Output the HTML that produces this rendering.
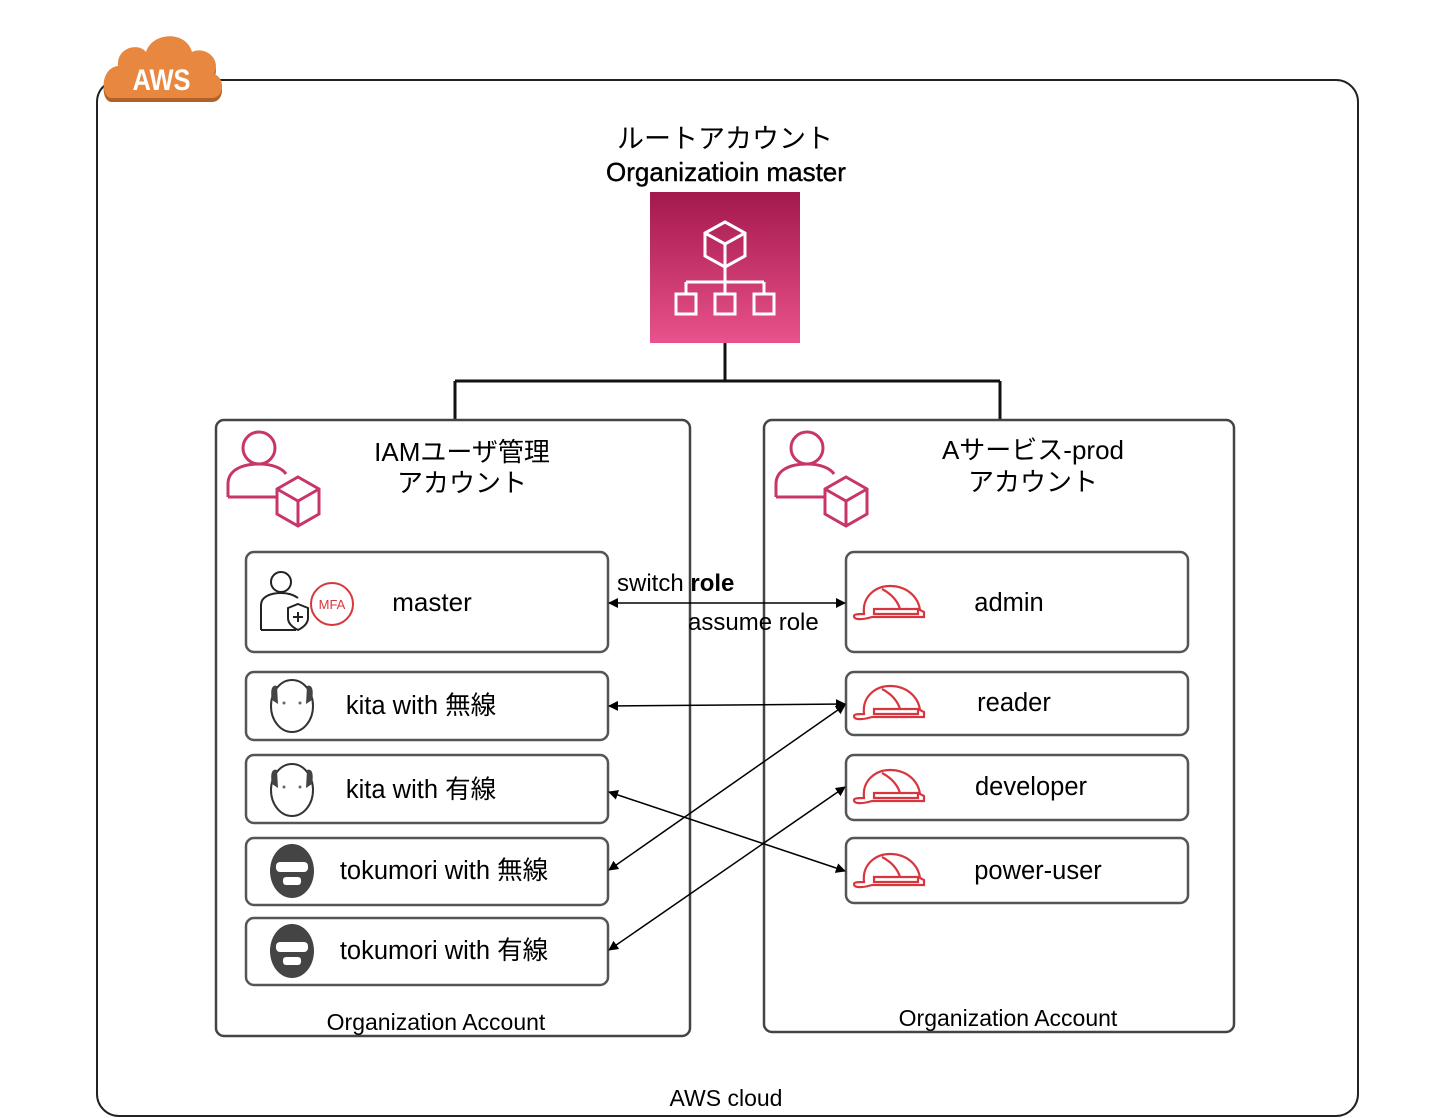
<!DOCTYPE html>
<html><head><meta charset="utf-8"><style>
html,body{margin:0;padding:0;background:#fff;}
svg{display:block;font-family:"Liberation Sans","Noto Sans CJK JP",sans-serif;}
</style></head><body>
<svg width="1442" height="1118" viewBox="0 0 1442 1118" xmlns="http://www.w3.org/2000/svg">
<defs>
<linearGradient id="pg" x1="0" y1="0" x2="0" y2="1"><stop offset="0" stop-color="#A3184D"/><stop offset="1" stop-color="#E9528C"/></linearGradient>
<marker id="ar" viewBox="0 0 10 10" refX="9" refY="5" markerWidth="10" markerHeight="10" orient="auto-start-reverse" markerUnits="userSpaceOnUse"><path d="M0,0 L10,5 L0,10 Z" fill="#000"/></marker>
<g id="helm" fill="none" stroke="#D8363E" stroke-width="2.2">
<path d="M864,614 C862,596 876,586 890,586 C906,586 918,596 920,610 L924,612 L924,617 L872,617 C862,620 854,620 854,616 C854,614 860,614 864,614 Z"/>
<path d="M874,609 L918,609 L918,614 L874,614 Z"/>
<path d="M882,589 C892,594 898,602 900,609"/>
</g>
</defs>
<rect x="97" y="80" width="1261" height="1036" rx="22" fill="none" stroke="#222" stroke-width="2"/>
<g>
<path d="M112,102 C100,102 100,72 118,70 C116,52 138,46 146,56 C152,36 186,34 192,56 C204,50 222,62 214,78 C226,82 224,102 212,102 Z" fill="#B0622C"/>
<path d="M112,98 C100,98 100,68 118,66 C116,48 138,42 146,52 C152,32 186,30 192,52 C204,46 222,58 214,74 C226,78 224,98 212,98 Z" fill="#E8873F"/>
<text x="162" y="90" font-size="30" fill="#fff" text-anchor="middle" font-weight="bold" transform="scale(0.85,1) translate(28,0)">AWS</text>
</g>
<text x="725" y="148" font-size="27" text-anchor="middle">ルートアカウント</text>
<text x="726" y="181" font-size="26" text-anchor="middle" stroke="#000" stroke-width="0.4">Organizatioin master</text>
<rect x="650" y="192" width="150" height="151" fill="url(#pg)"/>
<g fill="none" stroke="#fff" stroke-width="3">
<path d="M725,222 L745,233 L745,256 L725,267 L705,256 L705,233 Z M705,233 L725,244 L745,233 M725,244 L725,267"/>
<path d="M725,267 L725,282 M686,282 L764,282 M686,282 L686,294 M725,282 L725,294 M764,282 L764,294"/>
<rect x="676" y="294" width="20" height="20"/><rect x="715" y="294" width="20" height="20"/><rect x="754" y="294" width="20" height="20"/>
</g>
<path d="M725,343 V381 M455,381 H1000 M455,381 V420 M1000,381 V420" stroke="#111" stroke-width="3" fill="none"/>
<rect x="216" y="420" width="474" height="616" rx="8" fill="none" stroke="#444" stroke-width="2.5"/>
<rect x="764" y="420" width="470" height="612" rx="8" fill="none" stroke="#444" stroke-width="2.5"/>
<g fill="none" stroke="#C7356A" stroke-width="3">
<circle cx="259" cy="448" r="16"/><path d="M228,497 V484 C228,470 242,464 259,464 C272,464 282,468 286,474 M228,497 H276"/>
<path d="M298,477 L319,489 L319,514 L298,526 L277,514 L277,489 Z M277,489 L298,501 L319,489 M298,501 V526"/>
<circle cx="807" cy="448" r="16"/><path d="M776,497 V484 C776,470 790,464 807,464 C820,464 830,468 834,474 M776,497 H824"/>
<path d="M846,477 L867,489 L867,514 L846,526 L825,514 L825,489 Z M825,489 L846,501 L867,489 M846,501 V526"/>
</g>
<text x="462" y="461" font-size="26" text-anchor="middle">IAMユーザ管理</text>
<text x="462" y="492" font-size="26" text-anchor="middle">アカウント</text>
<text x="1033" y="459" font-size="26" text-anchor="middle">Aサービス-prod</text>
<text x="1033" y="491" font-size="26" text-anchor="middle">アカウント</text>
<g fill="#fff" stroke="#555" stroke-width="2.5">
<rect x="246" y="552" width="362" height="100" rx="8"/>
<rect x="246" y="672" width="362" height="68" rx="8"/>
<rect x="246" y="755" width="362" height="68" rx="8"/>
<rect x="246" y="838" width="362" height="67" rx="8"/>
<rect x="246" y="918" width="362" height="67" rx="8"/>
<rect x="846" y="552" width="342" height="100" rx="8"/>
<rect x="846" y="672" width="342" height="63" rx="8"/>
<rect x="846" y="755" width="342" height="65" rx="8"/>
<rect x="846" y="838" width="342" height="65" rx="8"/>
</g>
<g fill="none" stroke="#222" stroke-width="2">
<circle cx="281" cy="582" r="10"/><path d="M261,630 V605 C261,597 270,593 281,593 C288,593 294,595 298,598 M261,630 H296"/>
<path d="M298,604 L308,608 V618 C308,624 302,628 298,630 C294,628 288,624 288,618 V608 Z M298,612 V622 M293,617 H303"/>
</g>
<circle cx="332" cy="604" r="21" fill="none" stroke="#D8363E" stroke-width="2"/>
<text x="332" y="609" font-size="13" fill="#D8363E" text-anchor="middle">MFA</text>
<text x="432" y="611" font-size="26" text-anchor="middle">master</text>
<g stroke="#333" stroke-width="2" fill="#fff">
<ellipse cx="292" cy="706" rx="21" ry="26"/><ellipse cx="292" cy="790" rx="21" ry="26"/>
</g>
<g fill="#444"><path d="M272,700 C270,690 272,684 277,686 L278,704 Z M312,700 C314,690 312,684 307,686 L306,704 Z"/><path d="M272,784 C270,774 272,768 277,770 L278,788 Z M312,784 C314,774 312,768 307,770 L306,788 Z"/></g>
<g fill="#666"><circle cx="284" cy="703" r="1.5"/><circle cx="300" cy="703" r="1.5"/><circle cx="284" cy="787" r="1.5"/><circle cx="300" cy="787" r="1.5"/></g>
<g fill="#444">
<ellipse cx="292" cy="871" rx="22" ry="27"/><ellipse cx="292" cy="951" rx="22" ry="27"/>
</g>
<g fill="#fff"><rect x="276" y="862" width="32" height="10" rx="4"/><rect x="283" y="877" width="18" height="8" rx="3"/><rect x="276" y="942" width="32" height="10" rx="4"/><rect x="283" y="957" width="18" height="8" rx="3"/></g>
<g font-size="25.5" text-anchor="middle">
<text x="421" y="714">kita with 無線</text>
<text x="421" y="798">kita with 有線</text>
<text x="444" y="879">tokumori with 無線</text>
<text x="444" y="959">tokumori with 有線</text>
<text x="1009" y="611">admin</text>
<text x="1014" y="711">reader</text>
<text x="1031" y="795">developer</text>
<text x="1038" y="879">power-user</text>
</g>
<use href="#helm"/>
<use href="#helm" y="100"/>
<use href="#helm" y="184"/>
<use href="#helm" y="268"/>
<g stroke="#000" stroke-width="1.5" fill="none" marker-start="url(#ar)" marker-end="url(#ar)">
<line x1="609" y1="603" x2="845" y2="603"/>
<line x1="609" y1="706" x2="845" y2="704"/>
<line x1="609" y1="792" x2="845" y2="871"/>
<line x1="609" y1="870" x2="845" y2="705"/>
<line x1="609" y1="950" x2="845" y2="787"/>
</g>
<text x="617" y="591" font-size="24">switch <tspan font-weight="bold">role</tspan></text>
<text x="688" y="630" font-size="24">assume role</text>
<text x="436" y="1030" font-size="23" text-anchor="middle">Organization Account</text>
<text x="1008" y="1026" font-size="23" text-anchor="middle">Organization Account</text>
<text x="726" y="1106" font-size="23" text-anchor="middle">AWS cloud</text>
</svg>
</body></html>
